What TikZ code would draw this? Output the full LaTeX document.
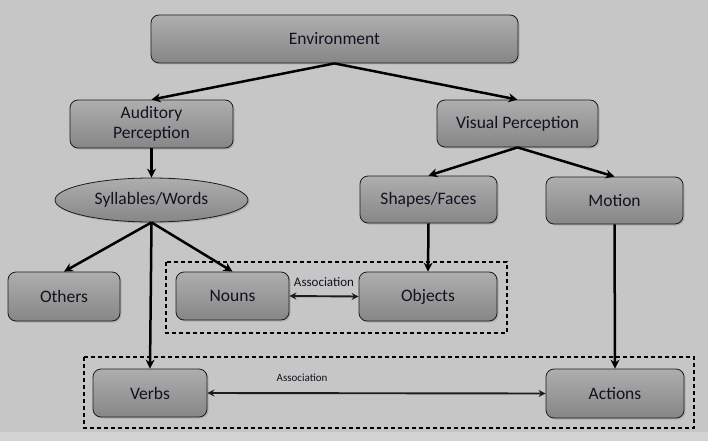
\documentclass[tikz,border=0pt]{standalone}
\usepackage{fontspec}
\setmainfont{Carlito}
\usetikzlibrary{positioning, arrows.meta, shapes.geometric, shadows}
\definecolor{BackColor}{RGB}{198,198,198}
\definecolor{StripColor}{RGB}{210,210,210}
\definecolor{BoxTop}{RGB}{174,174,174}
\definecolor{BoxBottom}{RGB}{134,134,134}
\definecolor{EdgeColor}{RGB}{28,28,28}
\definecolor{TextColor}{RGB}{18,18,32}
\tikzstyle{base} = [draw=EdgeColor, thick, top color=BoxTop, bottom color=BoxBottom, text=TextColor, font=\fontsize{17.5}{19.5}\selectfont, drop shadow={shadow xshift=1.5pt, shadow yshift=-1.5pt, opacity=0.35}]
\tikzstyle{block} = [base, rectangle, rounded corners=8pt, minimum height=48pt, align=center]
\tikzstyle{oval} = [base, ellipse, minimum width=193pt, minimum height=44pt]
\tikzstyle{arrow} = [line width=2.5pt, black, ->, >={Stealth[length=9pt, width=9pt]}]
\tikzstyle{assoc} = [line width=1.9pt, EdgeColor, <->, >={Stealth[open, length=7pt, width=7pt]}]
\tikzstyle{group} = [black, line width=1.5pt, dash pattern=on 4pt off 3pt]
\tikzstyle{assoclabel} = [text=TextColor, inner sep=2pt]
\begin{document}
\begin{tikzpicture}[x=1pt, y=-1pt]
    \useasboundingbox (0,0) rectangle (708,441);
    \fill[BackColor] (0,0) rectangle (708,441);
    \fill[StripColor] (0,432) rectangle (708,441);

    % Association groups
    \draw[group] (166,262) rectangle (507,333);
    \draw[group] (84,357) rectangle (694,428);

    % Sources
    \node[block, minimum width=367pt] (env) at (334.5,39) {Environment};
    \node[block, minimum width=163pt] (aud) at (151.5,124) {Auditory\\Perception};
    \node[block, minimum width=161pt, minimum height=47pt] (vis) at (517.5,123.5) {Visual Perception};

    % Auditory side
    \node[oval] (syl) at (151.5,200) {Syllables/Words};
    \node[block, minimum width=112pt, minimum height=49pt] (oth) at (64,296.5) {Others};
    \node[block, minimum width=113pt] (nou) at (232.5,296) {Nouns};
    \node[block, minimum width=114pt] (ver) at (150,393) {Verbs};

    % Visual side
    \node[block, minimum width=137pt, minimum height=47pt] (sha) at (428.5,199.5) {Shapes/Faces};
    \node[block, minimum width=137pt, minimum height=47pt] (mot) at (614.5,200.5) {Motion};
    \node[block, minimum width=138pt, minimum height=49pt] (obj) at (428,296.5) {Objects};
    \node[block, minimum width=138pt, minimum height=49pt] (act) at (615,393.5) {Actions};

    % Connectors
    \draw[arrow] (env.south) -- (aud.north);
    \draw[arrow] (env.south) -- (vis.north);
    \draw[arrow] (aud.south) -- (syl.north);
    \draw[arrow] (vis.south) -- (sha.north);
    \draw[arrow] (vis.south) -- (mot.north);
    \draw[arrow] (syl.south) -- (oth.north);
    \draw[arrow] (syl.south) -- (nou.north);
    \draw[arrow] (syl.south) -- (ver.north);
    \draw[arrow] (sha.south) -- (obj.north);
    \draw[arrow] (mot.south) -- (act.north);

    % Associations
    \draw[assoc] (nou.east) -- node[assoclabel, above=7pt, font=\fontsize{13}{15}\selectfont] {Association} (obj.west);
    \draw[assoc] (ver.east) -- node[assoclabel, pos=0.28, above=9pt, font=\fontsize{11}{13}\selectfont] {Association} (act.west);
\end{tikzpicture}
\end{document}
